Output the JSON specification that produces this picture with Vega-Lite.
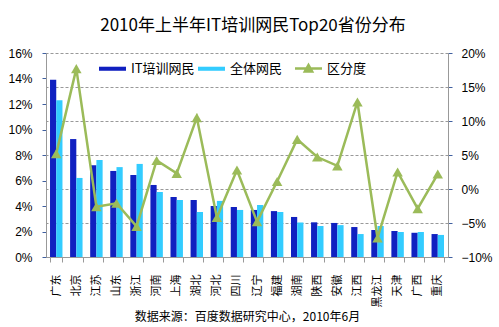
{
  "$schema": "https://vega.github.io/schema/vega-lite/v6.json",
  "width": 402,
  "height": 204,
  "autosize": {"type": "none"},
  "padding": {"left": 46, "top": 53, "right": 51, "bottom": 70},
  "background": "white",
  "title": {"text": "2010年上半年IT培训网民Top20省份分布", "font": "Noto Sans CJK SC", "fontSize": 17, "fontWeight": "normal", "color": "#000", "offset": 12, "anchor": "middle", "dx": 6},
  "config": {"view": {"stroke": null}, "axis": {"labelFont": "Liberation Sans", "labelFontSize": 12, "labelColor": "#000", "domainColor": "#999", "tickColor": "#999"}},
  "data": {"values": [
    {"province": "广东", "IT培训网民": 0.139, "全体网民": 0.123, "区分度": 0.052},
    {"province": "北京", "IT培训网民": 0.0925, "全体网民": 0.062, "区分度": 0.177},
    {"province": "江苏", "IT培训网民": 0.072, "全体网民": 0.076, "区分度": -0.026},
    {"province": "山东", "IT培训网民": 0.0675, "全体网民": 0.0705, "区分度": -0.021},
    {"province": "浙江", "IT培训网民": 0.0643, "全体网民": 0.073, "区分度": -0.055},
    {"province": "河南", "IT培训网民": 0.0565, "全体网民": 0.051, "区分度": 0.042},
    {"province": "上海", "IT培训网民": 0.047, "全体网民": 0.0447, "区分度": 0.023},
    {"province": "湖北", "IT培训网民": 0.0447, "全体网民": 0.0353, "区分度": 0.105},
    {"province": "河北", "IT培训网民": 0.04, "全体网民": 0.044, "区分度": -0.042},
    {"province": "四川", "IT培训网民": 0.0392, "全体网民": 0.0369, "区分度": 0.028},
    {"province": "辽宁", "IT培训网民": 0.0369, "全体网民": 0.0408, "区分度": -0.048},
    {"province": "福建", "IT培训网民": 0.036, "全体网民": 0.0353, "区分度": 0.011},
    {"province": "湖南", "IT培训网民": 0.0314, "全体网民": 0.027, "区分度": 0.073},
    {"province": "陕西", "IT培训网民": 0.0272, "全体网民": 0.0243, "区分度": 0.047},
    {"province": "安徽", "IT培训网民": 0.0267, "全体网民": 0.025, "区分度": 0.034},
    {"province": "江西", "IT培训网民": 0.0235, "全体网民": 0.018, "区分度": 0.128},
    {"province": "黑龙江", "IT培训网民": 0.0212, "全体网民": 0.0243, "区分度": -0.072},
    {"province": "天津", "IT培训网民": 0.0204, "全体网民": 0.0196, "区分度": 0.025},
    {"province": "广西", "IT培训网民": 0.019, "全体网民": 0.0196, "区分度": -0.029},
    {"province": "重庆", "IT培训网民": 0.018, "全体网民": 0.0173, "区分度": 0.022}
  ]},
  "encoding": {
    "x": {"field": "province", "type": "nominal", "sort": null,
      "scale": {"paddingInner": 0.38, "paddingOuter": 0.2},
      "axis": {"labelAngle": -90, "labelFont": "Noto Sans CJK SC", "labelFontSize": 11, "labelPadding": 12, "tickBand": "extent", "tickSize": 5,
        "title": "数据来源：百度数据研究中心，2010年6月", "titleFont": "Noto Sans CJK SC", "titleFontSize": 12, "titleFontWeight": "normal", "titleColor": "#000", "titlePadding": 5}}
  },
  "layer": [
    {
      "transform": [{"fold": ["IT培训网民", "全体网民"], "as": ["series", "value"]}],
      "mark": {"type": "bar"},
      "encoding": {
        "xOffset": {"field": "series", "type": "nominal", "sort": ["IT培训网民", "全体网民"], "scale": {"paddingInner": 0, "paddingOuter": 0}},
        "y": {"field": "value", "type": "quantitative", "scale": {"domain": [0, 0.16]},
          "axis": {"title": null, "format": ".0%", "values": [0, 0.02, 0.04, 0.06, 0.08, 0.1, 0.12, 0.14, 0.16], "grid": false, "tickSize": 4, "labelPadding": 10, "tickColor": "#4060a0"}},
        "color": {"field": "series", "type": "nominal", "sort": ["IT培训网民", "全体网民"],
          "scale": {"domain": ["IT培训网民", "全体网民"], "range": ["#1020C0", "#33CCFF"]},
          "legend": {"title": null, "orient": "none", "legendX": 51, "legendY": 9, "direction": "horizontal",
            "symbolType": "M-1,-0.45H5V0.45H-1Z", "symbolSize": 81, "symbolStrokeWidth": 0, "labelOffset": 21,
            "labelFont": "Noto Sans CJK SC", "labelFontSize": 13, "labelColor": "#000", "columnPadding": 1}}
      }
    },
    {
      "mark": {"type": "line", "color": "#9BBB59", "strokeWidth": 2.5, "point": {"shape": "triangle-up", "size": 110, "filled": true, "color": "#9BBB59"}},
      "encoding": {
        "y": {"field": "区分度", "type": "quantitative", "scale": {"domain": [-0.1, 0.2]},
          "axis": {"title": null, "orient": "right", "format": ".0%", "values": [-0.1, -0.05, 0, 0.05, 0.1, 0.15, 0.2], "grid": true, "gridDash": [3, 2], "gridColor": "#999", "tickSize": 4, "labelPadding": 9, "tickColor": "#4060a0"}},
        "color": {"datum": "区分度", "type": "nominal",
          "scale": {"domain": ["区分度"], "range": ["#9BBB59"]},
          "legend": {"title": null, "orient": "none", "legendX": 247, "legendY": 9,
            "symbolType": "M-1,0H5M1.2,0.65L2,-0.75L2.8,0.65Z", "symbolSize": 81, "labelOffset": 21,
            "labelFont": "Noto Sans CJK SC", "labelFontSize": 13, "labelColor": "#000",
            "symbolFillColor": "#9BBB59", "symbolStrokeColor": "#9BBB59", "symbolStrokeWidth": 2.5}}
      }
    }
  ],
  "resolve": {"scale": {"y": "independent", "color": "independent"}, "legend": {"color": "independent"}}
}
